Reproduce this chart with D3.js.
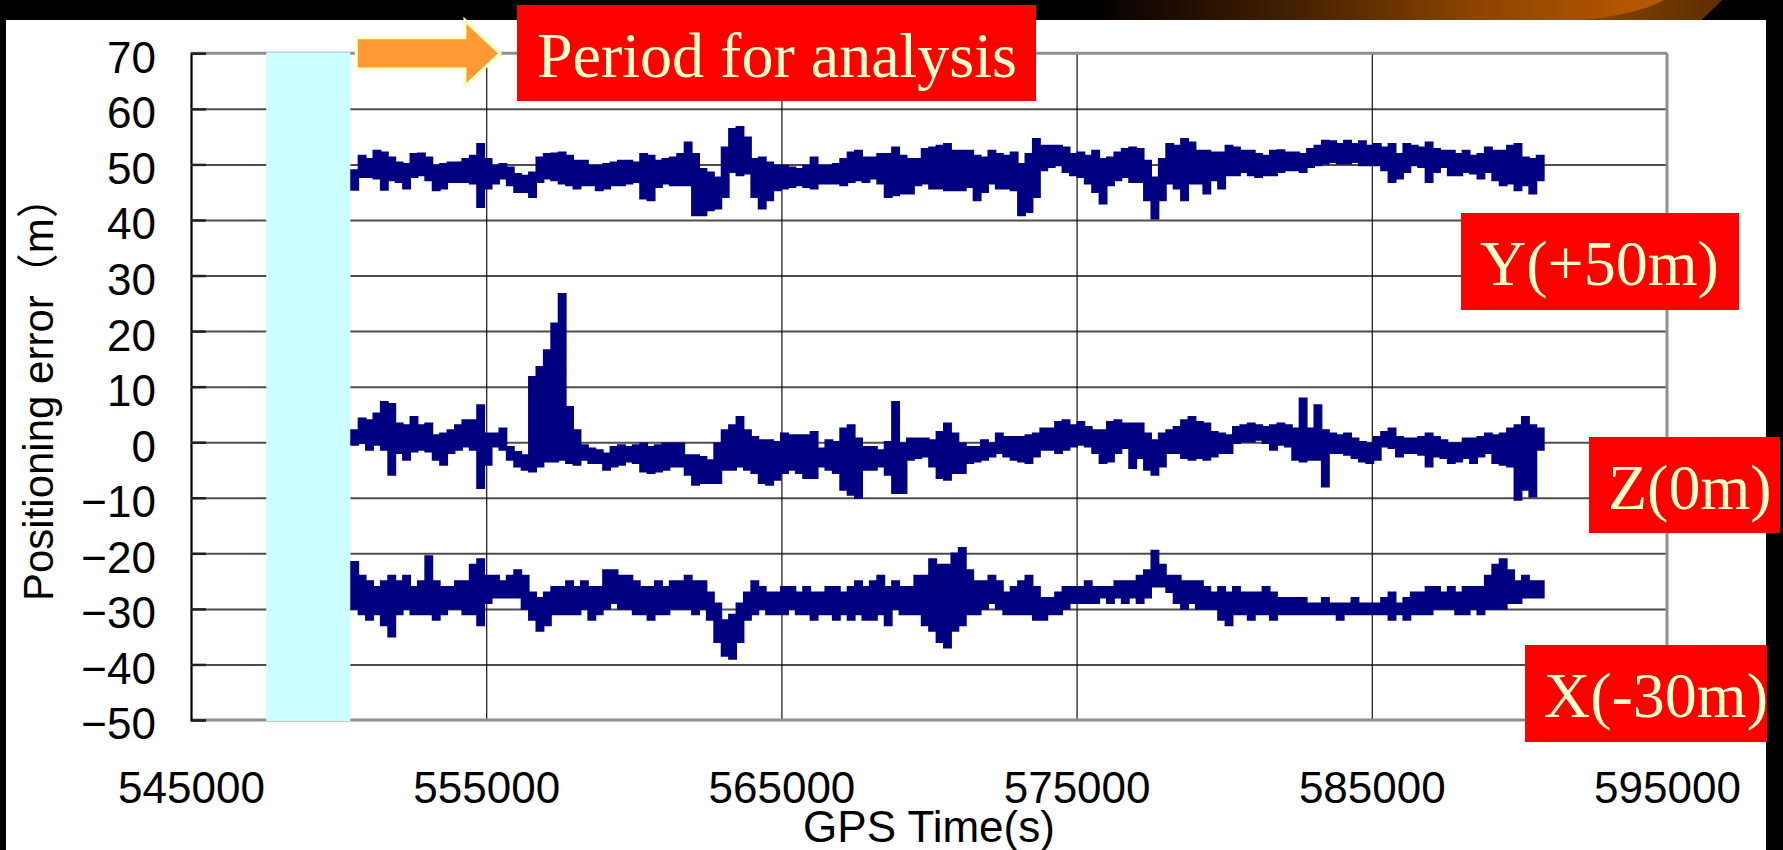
<!DOCTYPE html>
<html>
<head>
<meta charset="utf-8">
<script src="https://cdn.jsdelivr.net/npm/d3@7"></script>
<style>
  html, body { margin: 0; padding: 0; background: #000; }
  svg { display: block; }
</style>
</head>
<body>
<svg id="chart" width="1783" height="850"></svg>
<script>
// ---- axis ticks ----
const yTicks = [70, 60, 50, 40, 30, 20, 10, 0, -10, -20, -30, -40, -50];
const xTicks = [545000, 555000, 565000, 575000, 585000, 595000];

// ---- sampling of the three error records (GPS seconds) ----
const T0 = 550420;      // first epoch of the analysed record
const STEP = 251;       // spacing between envelope samples

// shaded pre-analysis interval
const excludedSpan = [547550, 550400];

// Y error, plotted with a +50 m offset: upper / lower envelope per sample
const yHi = [49.0,51.6,51.0,52.5,52.2,51.3,50.4,50.1,51.9,52.0,
  51.3,49.8,50.1,50.4,50.4,51.0,51.6,53.7,51.0,49.8,
  50.1,49.5,48.3,48.0,48.6,51.3,51.9,52.0,52.2,51.6,
  50.7,50.7,49.8,49.8,50.1,50.4,50.7,50.7,50.4,51.9,
  51.6,50.7,51.0,51.3,51.9,54.0,51.9,49.2,48.6,47.7,
  53.1,56.4,56.8,54.9,51.0,51.3,50.4,49.8,49.8,49.5,
  49.2,49.8,51.3,49.8,49.8,50.1,51.0,52.2,52.5,51.3,
  51.3,51.9,51.9,53.1,51.6,51.0,51.0,52.8,53.1,53.4,
  53.7,52.5,52.5,52.5,51.6,51.3,52.5,51.9,51.6,52.2,
  50.1,51.9,54.6,53.4,53.4,53.4,53.1,51.9,52.2,51.6,
  52.5,51.0,51.3,52.2,52.8,53.1,52.8,50.7,47.7,51.0,
  53.7,53.4,54.6,54.0,52.5,52.5,52.2,52.2,53.4,53.1,
  52.5,52.5,51.9,51.6,52.5,52.6,52.2,52.2,51.9,52.8,
  53.4,54.3,54.2,53.7,54.3,53.7,54.2,53.4,53.7,53.1,
  53.7,51.9,53.7,53.4,53.1,54.0,52.8,52.5,52.5,51.9,
  52.5,51.6,51.9,53.1,52.5,52.5,53.4,53.7,51.3,51.0,51.6];
const yLo = [45.4,47.7,47.7,47.4,45.4,47.1,46.8,45.6,47.7,48.0,
  47.1,45.3,45.6,46.8,46.8,46.8,46.5,42.3,45.6,46.5,
  47.4,46.2,45.0,45.0,44.1,46.8,47.4,47.1,46.5,46.2,
  45.6,46.2,46.2,45.3,45.6,46.2,46.2,46.5,46.8,43.8,
  43.5,45.9,46.5,46.2,46.2,46.2,40.8,40.8,41.7,42.0,
  44.1,48.6,48.0,48.3,44.1,42.0,43.5,45.3,45.6,45.9,
  46.2,45.9,45.6,46.5,46.5,46.5,46.2,46.8,47.1,46.8,
  47.4,46.5,44.1,44.4,44.7,44.7,46.2,46.5,45.6,45.6,
  45.3,45.3,45.3,45.9,43.5,45.0,46.5,45.6,45.6,45.3,
  40.8,41.4,44.1,48.9,49.5,49.8,48.6,48.0,47.7,46.5,
  45.0,42.9,46.2,47.1,47.7,46.8,46.8,43.5,40.2,43.5,
  46.5,45.6,43.5,46.5,46.5,44.7,47.1,45.6,48.0,48.0,
  48.6,48.0,47.7,48.0,48.0,48.6,48.9,48.9,48.6,49.5,
  49.8,50.1,50.4,50.1,50.1,50.4,49.8,49.8,49.8,48.9,
  46.8,47.4,48.6,49.8,49.5,46.8,48.6,49.5,48.0,48.0,
  48.6,48.3,47.4,48.6,47.1,46.2,46.5,45.3,46.2,44.7,47.1];

// Z error, no offset
const zHi = [2.2,4.3,4.0,5.2,7.3,6.9,3.4,3.1,4.6,3.1,
  3.4,1.3,1.6,2.2,3.1,4.0,4.0,6.7,1.6,1.6,
  2.5,-0.8,-1.7,-2.3,11.8,13.6,16.6,21.4,26.7,6.4,
  2.2,-0.5,-1.1,-1.4,-2.0,-0.8,-0.5,-0.8,-0.5,-0.2,
  -0.8,-0.5,-0.2,-0.2,-0.2,-2.3,-2.3,-2.6,-3.2,-0.2,
  2.2,3.1,4.6,2.2,1.0,0.4,0.4,0.1,1.6,1.3,
  1.3,1.3,1.9,-1.1,0.4,0.1,2.5,3.1,0.7,-0.8,
  -0.8,-1.4,0.1,7.3,-0.2,0.7,0.7,0.7,0.4,1.9,
  3.4,1.6,-0.2,-0.8,-0.8,0.4,-0.2,1.6,1.0,1.0,
  1.0,1.3,1.6,2.5,2.5,3.7,4.0,3.1,3.7,2.8,
  2.2,2.2,3.7,4.0,3.4,3.4,3.4,1.6,0.4,1.6,
  2.2,2.8,4.0,4.6,3.7,3.4,1.9,1.6,1.3,2.8,
  3.1,3.4,3.1,2.8,3.1,3.4,3.1,2.5,7.9,2.5,
  6.7,2.2,1.6,1.3,1.6,0.7,0.1,-0.2,1.0,1.9,
  2.5,1.0,0.7,0.7,1.0,1.6,1.0,0.4,-0.2,-0.2,
  0.7,0.7,1.0,1.6,1.3,1.6,2.5,3.1,4.6,3.1,2.5];
const zLo = [-0.5,-0.2,-1.4,-0.5,-1.4,-5.9,-2.0,-3.2,-1.7,-1.4,
  -1.7,-3.2,-4.1,-2.0,-1.4,-0.8,-1.4,-8.3,-4.1,-0.8,
  -1.4,-3.2,-4.4,-5.0,-5.3,-4.4,-3.5,-3.5,-3.2,-3.8,
  -4.1,-3.2,-3.8,-3.8,-5.0,-4.4,-4.1,-3.5,-3.8,-5.3,
  -5.6,-5.3,-5.0,-4.4,-4.4,-5.9,-7.7,-7.4,-7.4,-7.4,
  -5.0,-5.0,-4.4,-5.0,-5.6,-7.4,-7.7,-6.8,-5.6,-5.0,
  -5.6,-6.5,-6.5,-4.4,-5.0,-5.6,-8.6,-9.5,-10.1,-5.0,
  -5.0,-4.4,-5.9,-9.2,-9.2,-3.2,-2.9,-2.6,-4.4,-6.5,
  -6.8,-5.6,-5.6,-3.8,-3.5,-3.2,-2.6,-2.0,-2.6,-3.2,
  -3.5,-3.8,-2.6,-1.4,-1.4,-2.0,-1.4,-0.8,-0.5,-0.8,
  -2.0,-3.8,-3.5,-2.0,-1.1,-4.7,-2.9,-5.0,-5.9,-4.4,
  -2.0,-2.0,-2.9,-3.2,-2.9,-3.2,-2.6,-2.0,-2.0,-0.2,
  0.1,0.1,0.4,-0.2,-1.4,-0.5,-0.8,-3.2,-3.5,-3.2,
  -3.2,-8.0,-2.0,-2.0,-2.3,-2.9,-3.5,-3.8,-3.2,-0.8,
  -1.1,-2.6,-2.0,-2.0,-2.3,-4.4,-2.6,-2.9,-3.8,-3.5,
  -2.9,-3.8,-2.6,-2.0,-3.8,-4.1,-4.4,-10.4,-8.6,-9.8,-1.4];

// X error, plotted with a -30 m offset
const xHi = [-21.5,-24,-25,-26,-25,-24,-25,-24,-26,-25,
  -20.5,-25,-26,-26,-25,-25,-22,-21,-24,-24,
  -25,-24,-23,-24,-27,-28,-27,-26,-26,-25,
  -26,-25,-26,-26,-23,-23,-24,-24,-25,-26,
  -26,-25,-26,-25,-25,-24,-25,-25,-27,-29,
  -32,-31,-29,-27,-25,-26,-27,-27,-26,-26,
  -27,-26,-27,-27,-26,-26,-27,-26,-25,-26,
  -25,-24,-26,-25,-26,-26,-24,-24,-21,-22,
  -22,-20,-19,-23,-25,-25,-24,-25,-27,-26,
  -25,-24,-26,-28,-28,-27,-26,-26,-26,-25,
  -26,-26,-26,-25,-25,-25,-24,-23,-19.5,-22,
  -24,-24,-25,-25,-25,-26,-27,-26,-27,-26,
  -27,-27,-27,-26,-27,-28,-28,-28,-28,-29,
  -29,-28,-29,-29,-29,-28,-29,-29,-29,-28,
  -27,-29,-28,-27,-27,-26,-26,-27,-26,-27,
  -26,-26,-26,-24,-22,-21,-23,-25,-24,-25,-25];
const xLo = [-30,-31,-32,-31,-33,-35,-31,-30,-31,-31,
  -31,-32,-31,-30,-30,-31,-31,-33,-29,-28,
  -28,-28,-28,-30,-32,-34,-33,-31,-31,-31,
  -31,-30,-32,-31,-30,-29,-30,-30,-31,-31,
  -32,-31,-31,-30,-30,-30,-31,-30,-32,-36,
  -38.5,-39,-36,-32,-31,-30,-31,-31,-31,-30,
  -31,-31,-32,-31,-31,-32,-31,-32,-31,-32,
  -32,-31,-33,-30,-31,-31,-31,-33,-34,-36,
  -37,-34,-33,-31,-31,-30,-29,-30,-31,-31,
  -31,-31,-32,-32,-31,-31,-30,-29,-29,-29,
  -29,-28,-29,-28,-29,-28,-29,-28,-26,-26,
  -27,-29,-30,-29,-30,-30,-30,-32,-33,-31,
  -31,-32,-31,-31,-32,-31,-31,-31,-31,-31,
  -31,-31,-31,-32,-31,-31,-31,-31,-31,-31,
  -32,-31,-32,-31,-31,-31,-30,-30,-30,-31,
  -31,-30,-31,-30,-30,-30,-29,-29,-28,-28,-28];

// annotation arrow (GPS seconds, along the top of the plot)
const arrowTail = 550600, arrowNeck = 554280, arrowTip = 555470;

// ---------------------------------------------------------------
const W = 1783, H = 850;
const svg = d3.select("#chart");
const defs = svg.append("defs");

// slide backdrop: black frame, white panel, copper streak at the top
svg.append("rect").attr("width", W).attr("height", H).attr("fill", "#000");

const streak = defs.append("linearGradient").attr("id", "streak")
  .attr("gradientUnits", "userSpaceOnUse")
  .attr("x1", 1090).attr("x2", 1720).attr("y1", 0).attr("y2", 0);
[[0, "#000000"], [0.12, "#1c0c02"], [0.35, "#4a2300"], [0.6, "#8a4300"], [0.85, "#b05600"], [1, "#b45a00"]]
  .forEach(([o, c]) => streak.append("stop").attr("offset", o).attr("stop-color", c));
svg.append("path").attr("d", "M1090,0 L1722,0 L1701,20 L1090,20 Z").attr("fill", "url(#streak)");

const crescent = defs.append("linearGradient").attr("id", "crescent")
  .attr("gradientUnits", "userSpaceOnUse")
  .attr("x1", 1580).attr("x2", 1722).attr("y1", 0).attr("y2", 0);
crescent.append("stop").attr("offset", 0).attr("stop-color", "#8a4500");
crescent.append("stop").attr("offset", 1).attr("stop-color", "#5c2d00");
svg.append("path").attr("d", "M1582,20 Q1640,14 1664,0 L1722,0 L1701,20 Z").attr("fill", "url(#crescent)");

svg.append("rect").attr("x", 6).attr("y", 20).attr("width", 1760).attr("height", H - 20).attr("fill", "#fff");

// ---- scales ----
const x = d3.scaleLinear().domain([545000, 595000]).range([191, 1667]);
const y = d3.scaleLinear().domain([-50, 70]).range([720, 53.3]);
const pL = x.range()[0], pR = x.range()[1];
const pT = y(70), pB = y(-50);

const plot = svg.append("g");

// horizontal grid
plot.append("g")
  .attr("transform", `translate(${pL},0)`)
  .call(d3.axisLeft(y).tickValues(yTicks.filter(d => d !== 70 && d !== -50)).tickSize(-(pR - pL)).tickFormat(""))
  .call(g => g.select(".domain").remove())
  .call(g => g.selectAll("line").attr("stroke", "#4d4d4d").attr("stroke-width", 2));

// vertical grid
plot.append("g")
  .attr("transform", `translate(0,${pB})`)
  .call(d3.axisBottom(x).tickValues(xTicks.slice(1, -1)).tickSize(-(pB - pT)).tickFormat(""))
  .call(g => g.select(".domain").remove())
  .call(g => g.selectAll("line").attr("stroke", "#111").attr("stroke-width", 1.2));

// plot frame
plot.append("line").attr("x1", pL).attr("x2", pR).attr("y1", pT).attr("y2", pT)
  .attr("stroke", "#8f8f8f").attr("stroke-width", 3);
plot.append("line").attr("x1", pL).attr("x2", pR).attr("y1", pB).attr("y2", pB)
  .attr("stroke", "#8f8f8f").attr("stroke-width", 3);
plot.append("line").attr("x1", pR).attr("x2", pR).attr("y1", pT).attr("y2", pB)
  .attr("stroke", "#8f8f8f").attr("stroke-width", 3);

// shaded interval excluded from the analysis
plot.append("rect")
  .attr("x", x(excludedSpan[0])).attr("width", x(excludedSpan[1]) - x(excludedSpan[0]))
  .attr("y", pT - 1).attr("height", pB - pT + 2)
  .attr("fill", "#ccffff");

// y axis with inward ticks
const minus = d => (d < 0 ? "\u2212" + Math.abs(d) : String(d));
plot.append("g")
  .attr("transform", `translate(${pL},0)`)
  .call(d3.axisLeft(y).tickValues(yTicks).tickSize(-15).tickPadding(35).tickFormat(minus))
  .call(g => g.select(".domain").attr("stroke", "#000").attr("stroke-width", 2.2))
  .call(g => g.selectAll("line").attr("stroke", "#222").attr("stroke-width", 2.5))
  .call(g => g.selectAll("text")
    .attr("font-family", "'Liberation Sans', Arial, sans-serif")
    .attr("font-size", 44).attr("fill", "#000").attr("dy", "0.43em"));

// x axis labels
plot.append("g")
  .attr("transform", `translate(0,${pB})`)
  .call(d3.axisBottom(x).tickValues(xTicks).tickSize(0).tickPadding(52).tickFormat(d3.format("d")))
  .call(g => g.select(".domain").remove())
  .call(g => g.selectAll("text")
    .attr("font-family", "'Liberation Sans', Arial, sans-serif")
    .attr("font-size", 44).attr("fill", "#000"));

// axis titles
svg.append("text")
  .attr("x", (pL + pR) / 2).attr("y", 842)
  .attr("text-anchor", "middle")
  .attr("font-family", "'Liberation Sans', Arial, sans-serif").attr("font-size", 44)
  .text("GPS Time(s)");
svg.append("text")
  .attr("transform", `translate(53,${(pT + pB) / 2 + 2}) rotate(-90)`)
  .attr("text-anchor", "middle")
  .attr("font-family", "'Liberation Sans', 'Noto Sans CJK JP', sans-serif").attr("font-size", 42)
  .text("Positioning error\uFF08m\uFF09");

// ---- the three noisy records: stepped envelope between lower and upper bounds ----
const NAVY = "#000080";
function samples(hi, lo) {
  const s = hi.map((h, i) => ({ t: T0 + i * STEP, hi: h, lo: lo[i] }));
  // close the last step at the end of the record
  s.push({ t: T0 + hi.length * STEP, hi: hi[hi.length - 1], lo: lo[lo.length - 1] });
  return s;
}
const band = d3.area()
  .curve(d3.curveStepAfter)
  .x(d => x(d.t)).y0(d => y(d.lo)).y1(d => y(d.hi));
[[yHi, yLo], [zHi, zLo], [xHi, xLo]].forEach(([hi, lo]) => {
  plot.append("path")
    .attr("d", band(samples(hi, lo)))
    .attr("fill", NAVY)
    .attr("stroke", NAVY)
    .attr("stroke-width", 1.5)
    .attr("stroke-linejoin", "miter");
});

// ---- annotation arrow ----
const ay = pT;
const arrowPath = d3.path();
arrowPath.moveTo(x(arrowTail), ay - 15.6);
arrowPath.lineTo(x(arrowNeck), ay - 15.6);
arrowPath.lineTo(x(arrowNeck), ay - 33);
arrowPath.lineTo(x(arrowTip), ay);
arrowPath.lineTo(x(arrowNeck), ay + 33);
arrowPath.lineTo(x(arrowNeck), ay + 15.6);
arrowPath.lineTo(x(arrowTail), ay + 15.6);
arrowPath.closePath();
svg.append("path").attr("d", arrowPath.toString())
  .attr("fill", "#ff9933").attr("stroke", "#ffffc8").attr("stroke-width", 3)
  .attr("stroke-linejoin", "miter");

// ---- red call-out labels ----
const callouts = [
  { text: "Period for analysis", x0: 517, y0: 5, x1: 1036, y1: 101, tx: 537, ty: 77 },
  { text: "Y(+50m)", x0: 1461, y0: 213, x1: 1739, y1: 310, tx: 1480, ty: 285 },
  { text: "Z(0m)", x0: 1589, y0: 437, x1: 1780, y1: 533, tx: 1608, ty: 509 },
  { text: "X(-30m)", x0: 1525, y0: 645, x1: 1767, y1: 742, tx: 1544, ty: 717 }
];
const co = svg.append("g");
co.selectAll("rect").data(callouts).join("rect")
  .attr("x", d => d.x0).attr("y", d => d.y0)
  .attr("width", d => d.x1 - d.x0).attr("height", d => d.y1 - d.y0)
  .attr("fill", "#ff0000");
co.selectAll("text").data(callouts).join("text")
  .attr("x", d => d.tx).attr("y", d => d.ty)
  .attr("font-family", "'Liberation Serif', 'Times New Roman', serif")
  .attr("font-size", 64).attr("fill", "#ffffcc")
  .text(d => d.text);
</script>
</body>
</html>
